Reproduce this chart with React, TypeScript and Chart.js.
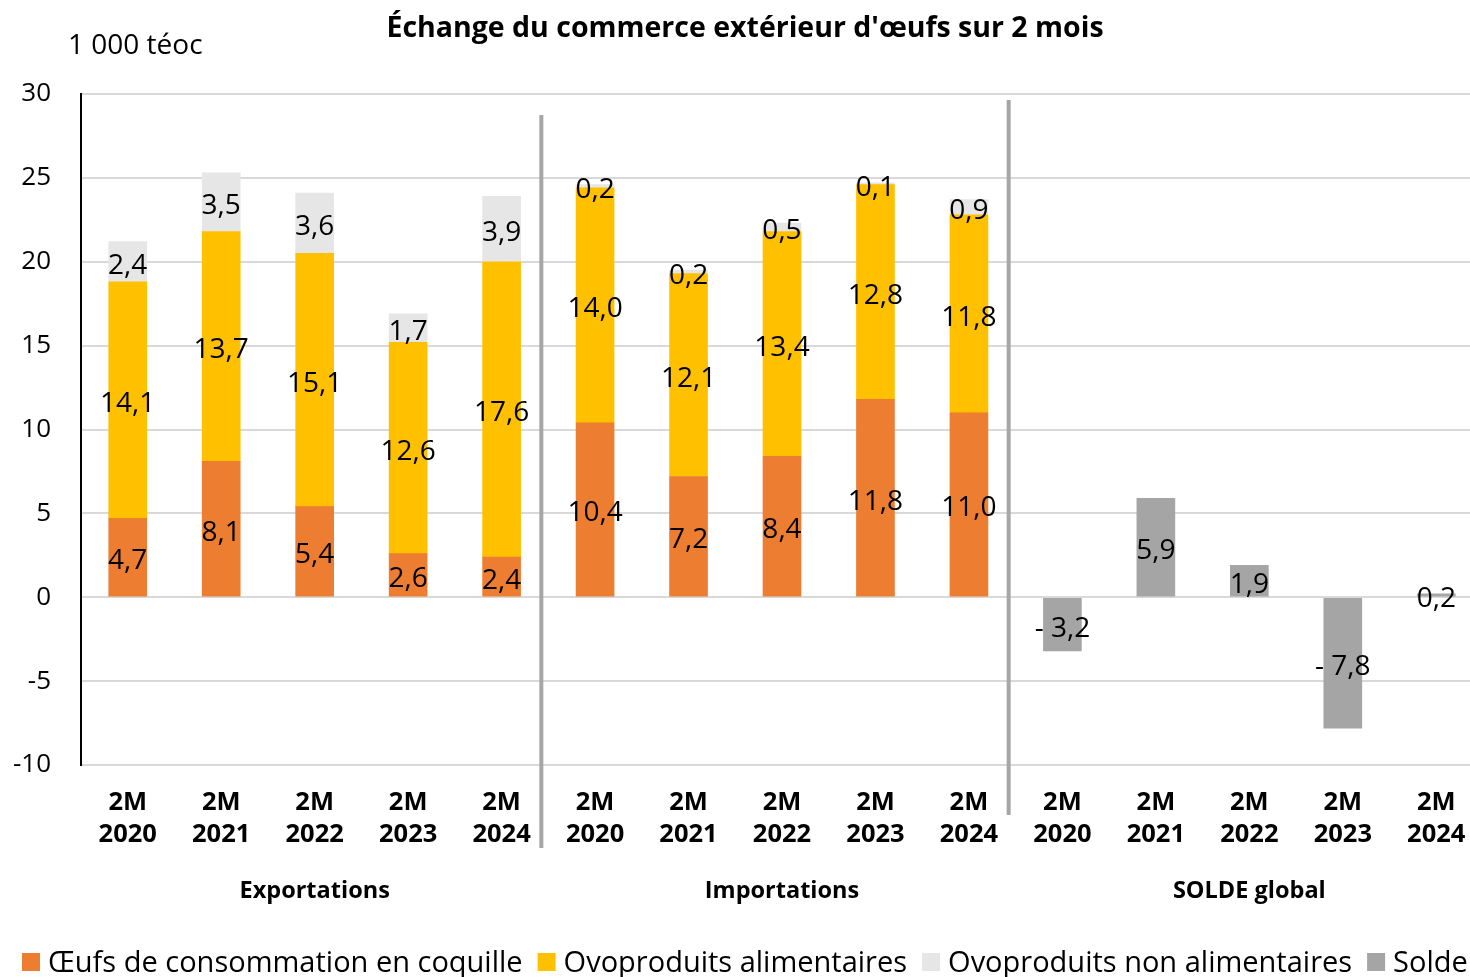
import React, { useEffect, useRef } from 'react';
import { Chart, registerables } from 'chart.js';
Chart.register(...registerables);

const FONT = "'Open Sans', sans-serif";

const categories: string[][] = [
  ['2M', '2020'], ['2M', '2021'], ['2M', '2022'], ['2M', '2023'], ['2M', '2024'],
  ['2M', '2020'], ['2M', '2021'], ['2M', '2022'], ['2M', '2023'], ['2M', '2024'],
  ['2M', '2020'], ['2M', '2021'], ['2M', '2022'], ['2M', '2023'], ['2M', '2024'],
];
const groupLabels = ['Exportations', 'Importations', 'SOLDE global'];
const groupCenters = [2, 7, 12];

const oeufsCoquille = [4.7, 8.1, 5.4, 2.6, 2.4, 10.4, 7.2, 8.4, 11.8, 11.0, null, null, null, null, null];
const ovoAlimentaires = [14.1, 13.7, 15.1, 12.6, 17.6, 14.0, 12.1, 13.4, 12.8, 11.8, null, null, null, null, null];
const ovoNonAlimentaires = [2.4, 3.5, 3.6, 1.7, 3.9, 0.2, 0.2, 0.5, 0.1, 0.9, null, null, null, null, null];
const solde = [null, null, null, null, null, null, null, null, null, null, -3.2, 5.9, 1.9, -7.8, 0.2];

const seriesNames = ['Œufs de consommation en coquille', 'Ovoproduits alimentaires', 'Ovoproduits non alimentaires', 'Solde'];
const seriesColors = ['#ED7D31', '#FFC000', '#E7E6E6', '#A5A5A5'];

const yMin = -10;
const yMax = 30;
const yStep = 5;

const titleText = "Échange du commerce extérieur d'œufs sur 2 mois";
const unitText = '1 000 téoc';

function fmt(v: number): string {
  const s = Math.abs(v).toFixed(1).replace('.', ',');
  return v < 0 ? '- ' + s : s;
}

const decorPlugin = {
  id: 'decor',
  afterDraw(chart: any) {
    const ctx = chart.ctx;
    const xs = chart.scales.x;
    const area = chart.chartArea;
    ctx.save();
    // data labels
    ctx.font = `28px ${FONT}`;
    ctx.fillStyle = '#000';
    ctx.textAlign = 'center';
    ctx.textBaseline = 'middle';
    chart.data.datasets.forEach((ds: any, di: number) => {
      const meta = chart.getDatasetMeta(di);
      meta.data.forEach((el: any, i: number) => {
        const v = ds.data[i];
        if (v === null || v === undefined) return;
        const p = el.getProps(['x', 'y', 'base'], true);
        ctx.fillText(fmt(v), p.x, (p.y + p.base) / 2 + 4);
      });
    });
    // separators
    ctx.fillStyle = '#A6A6A6';
    const s1 = xs.getPixelForValue(4.5) - 7;
    const s2 = xs.getPixelForValue(9.5) - 7;
    ctx.fillRect(s1 - 2, area.top + 21, 4, area.bottom + 83 - (area.top + 21));
    ctx.fillRect(s2 - 2, area.top + 6, 4, area.bottom + 50 - (area.top + 6));
    // group labels
    ctx.fillStyle = '#000';
    ctx.font = `bold 23.5px ${FONT}`;
    groupLabels.forEach((g, i) => {
      ctx.fillText(g, xs.getPixelForValue(groupCenters[i]), 891);
    });
    // title
    ctx.font = `bold 28.5px ${FONT}`;
    ctx.fillText(titleText, 745, 29);
    // unit
    ctx.font = `28px ${FONT}`;
    ctx.textAlign = 'left';
    ctx.fillText(unitText, 68, 46);
    // legend
    ctx.font = `29px ${FONT}`;
    let x = 22;
    const ly = 962;
    chart.data.datasets.forEach((ds: any) => {
      ctx.fillStyle = ds.backgroundColor;
      ctx.fillRect(x, ly - 9, 18, 18);
      x += 18 + 8;
      ctx.fillStyle = '#000';
      ctx.fillText(ds.label, x, ly + 2);
      x += ctx.measureText(ds.label).width + 15;
    });
    ctx.restore();
  },
};

export default function App() {
  const ref = useRef<HTMLCanvasElement>(null);
  useEffect(() => {
    if (!ref.current) return;
    const seriesData = [oeufsCoquille, ovoAlimentaires, ovoNonAlimentaires, solde];
    const chart = new Chart(ref.current, {
      type: 'bar',
      data: {
        labels: categories,
        datasets: seriesData.map((d, i) => ({
          label: seriesNames[i],
          data: d,
          backgroundColor: seriesColors[i],
          borderWidth: 0,
          barThickness: 38,
        })),
      },
      options: {
        responsive: false,
        maintainAspectRatio: false,
        devicePixelRatio: 1,
        animation: false,
        layout: { padding: { top: 94, right: 0, bottom: 0, left: 0 } },
        plugins: {
          legend: { display: false },
          title: { display: false },
          tooltip: { enabled: false },
        },
        scales: {
          x: {
            stacked: true,
            grid: { display: false },
            border: { display: false },
            ticks: {
              autoSkip: false,
              maxRotation: 0,
              minRotation: 0,
              padding: 14,
              color: '#000',
              font: { family: FONT, size: 25.5, weight: 'bold', lineHeight: 1.26 },
            },
            afterFit(scale: any) { scale.height = 212; },
          },
          y: {
            stacked: true,
            min: yMin,
            max: yMax,
            ticks: {
              stepSize: yStep,
              padding: 30,
              color: '#000',
              font: { family: FONT, size: 26 },
            },
            grid: { color: '#D9D9D9', lineWidth: 2, drawTicks: false },
            border: { display: true, color: '#000', width: 2 },
            afterFit(scale: any) { scale.width = 81; },
          },
        },
      },
      plugins: [decorPlugin],
    } as any);
    return () => chart.destroy();
  }, []);
  return (
    <div style={{ position: 'fixed', left: 0, top: 0, width: 1470, height: 977, overflow: 'hidden', background: '#fff' }}>
      <canvas ref={ref} width={1483} height={977} style={{ width: 1483, height: 977, display: 'block' }} />
    </div>
  );
}
